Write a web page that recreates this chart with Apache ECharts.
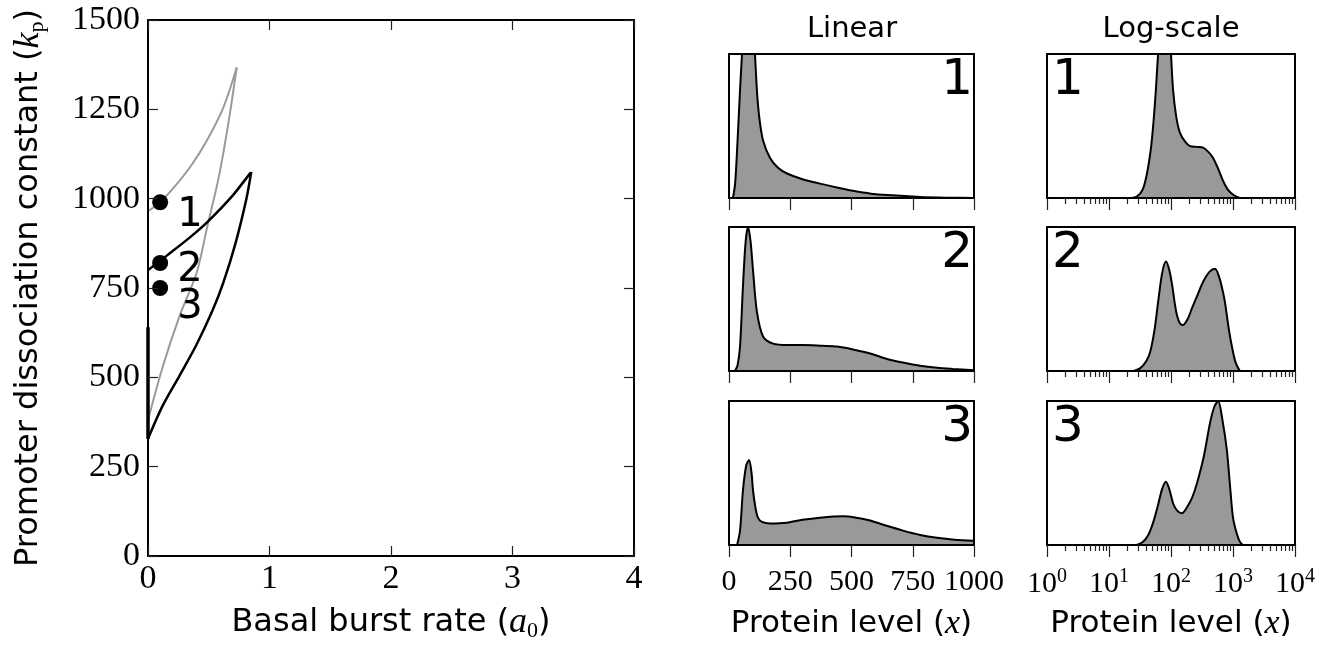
<!DOCTYPE html>
<html><head><meta charset="utf-8">
<script src="https://cdn.jsdelivr.net/npm/echarts@6/dist/echarts.min.js"></script>
<style>html,body{margin:0;padding:0;background:#fff}#c{width:1319px;height:647px}</style>
</head><body><div id="c"></div>
<script>
// ---- tick labels ----
const mainXTicks = [0, 1, 2, 3, 4];
const mainYTicks = [0, 250, 500, 750, 1000, 1250, 1500];
const linTicks = [0, 250, 500, 750, 1000];
const logTicks = [1, 10, 100, 1000, 10000];
const logMinorTicks = [2,3,4,5,6,7,8,9,20,30,40,50,60,70,80,90,200,300,400,500,600,700,800,900,2000,3000,4000,5000,6000,7000,8000,9000];

// ---- main plot: bifurcation curves (a0, kp) ----
const grayUpper = [[0,965],[0.1,990],[0.21,1030],[0.35,1090],[0.48,1160],[0.62,1255],[0.73,1367]];
const grayLower = [[0,380],[0.12,528],[0.26,672],[0.40,792],[0.49,925],[0.58,1056],[0.66,1208],[0.73,1367]];
const blackUpper = [[0,800],[0.16,842],[0.35,893],[0.49,935],[0.70,1010],[0.85,1075]];
const blackLower = [[0,328],[0.12,420],[0.26,505],[0.40,592],[0.53,686],[0.62,765],[0.72,875],[0.81,1000],[0.85,1075]];
const axisSegment = [[0,328],[0,640]];
const pointsX = [0.1, 0.1, 0.1];
const pointsY = [990, 820, 750];
const pointLabels = ['1', '2', '3'];

// ---- distributions, linear scale (protein level, relative density) ----
const linear1 = [[16,0],[25,0.1],[35,0.4],[45,0.75],[53,1.0],[65,1.4],[80,1.6],[95,1.35],[106,1.0],[115,0.72],[125,0.54],[139,0.40],[167,0.28],[200,0.21],[237,0.17],[300,0.13],[371,0.10],[450,0.07],[506,0.05],[580,0.03],[645,0.02],[780,0.007],[900,0.002],[1000,0]];
const linear2 = [[24,0],[35,0.04],[45,0.17],[57,0.59],[68,0.9],[78,1.0],[88,0.9],[98,0.70],[114,0.41],[139,0.24],[180,0.19],[240,0.18],[302,0.18],[380,0.175],[441,0.17],[506,0.15],[580,0.12],[645,0.083],[720,0.055],[780,0.036],[850,0.022],[914,0.014],[1000,0.005]];
const linear3 = [[33,0],[45,0.1],[57,0.38],[70,0.55],[82,0.59],[92,0.5],[98,0.38],[108,0.26],[118,0.19],[135,0.16],[167,0.15],[237,0.155],[300,0.175],[371,0.19],[465,0.20],[520,0.19],[576,0.17],[640,0.135],[710,0.10],[780,0.07],[849,0.05],[920,0.037],[1000,0.03]];

// ---- distributions, log scale ----
const log1 = [[20,0],[28,0.01],[35,0.06],[41,0.17],[47,0.33],[52,0.52],[57,0.75],[62,1.0],[70,1.25],[80,1.35],[92,1.25],[100,1.0],[108,0.75],[122,0.56],[140,0.45],[170,0.39],[203,0.36],[260,0.355],[330,0.35],[400,0.32],[475,0.28],[580,0.2],[690,0.12],[820,0.06],[960,0.03],[1130,0.01],[1290,0]];
const log2 = [[25,0],[32,0.02],[40,0.07],[46,0.13],[54,0.28],[62,0.48],[72,0.68],[83,0.76],[94,0.7],[105,0.59],[115,0.47],[126,0.38],[140,0.33],[155,0.32],[185,0.36],[220,0.44],[263,0.52],[330,0.62],[420,0.69],[513,0.71],[600,0.65],[680,0.56],[740,0.48],[850,0.3],[960,0.17],[1100,0.06],[1290,0]];
const log3 = [[28,0],[35,0.02],[43,0.07],[51,0.15],[62,0.28],[72,0.39],[83,0.44],[95,0.38],[108,0.29],[125,0.24],[150,0.22],[180,0.26],[220,0.33],[263,0.43],[340,0.62],[427,0.85],[500,0.96],[575,1.0],[680,0.86],[795,0.66],[900,0.4],[1000,0.19],[1150,0.08],[1300,0.02],[1450,0]];

const panelNames = ['1', '2', '3'];

// ---------------- build options ----------------
const SERIF = 'Liberation Serif', SANS = 'DejaVu Sans';
const BL = {color: '#000', width: 2};
const TL = {color: '#222', width: 1.2};
const grids = [{left: 148, top: 20, width: 486, height: 540}];
const rowTops = [54, 227, 401], PH = 144;
rowTops.forEach(t => grids.push({left: 729, top: t, width: 245, height: PH}));
rowTops.forEach(t => grids.push({left: 1047, top: t, width: 248, height: PH}));

const xAxes = [], yAxes = [], series = [];
const addX = o => (xAxes.push(o), xAxes.length - 1);
const addY = o => (yAxes.push(o), yAxes.length - 1);
const richName = {
  i: {fontFamily: SERIF, fontStyle: 'italic', fontSize: 36, color: '#000'},
  sub: {fontFamily: SERIF, fontSize: 22, color: '#000', padding: [16, 0, 0, 0]}
};
const richNameSmall = {
  i: {fontFamily: SERIF, fontStyle: 'italic', fontSize: 34, color: '#000'}
};

// main axes
const mx = addX({gridIndex: 0, type: 'value', position: 'bottom', min: mainXTicks[0], max: mainXTicks[mainXTicks.length-1], interval: mainXTicks[1]-mainXTicks[0],
  axisLine: {show: true, onZero: false, lineStyle: BL}, axisTick: {inside: true, length: 10, lineStyle: TL},
  axisLabel: {color: '#000', fontFamily: SERIF, fontSize: 34, margin: 6, formatter: v => String(v)}, splitLine: {show: false},
  name: 'Basal burst rate ({i|a}{sub|0})', nameLocation: 'middle', nameGap: 48,
  nameTextStyle: {fontFamily: SANS, fontSize: 32, color: '#000', rich: richName}, z: 10});
addX({gridIndex: 0, type: 'value', position: 'top', min: mainXTicks[0], max: mainXTicks[mainXTicks.length-1], interval: mainXTicks[1]-mainXTicks[0],
  axisLine: {show: true, onZero: false, lineStyle: BL}, axisTick: {inside: true, length: 10, lineStyle: TL},
  axisLabel: {show: false}, splitLine: {show: false}, z: 10});
const my = addY({gridIndex: 0, type: 'value', position: 'left', min: mainYTicks[0], max: mainYTicks[mainYTicks.length-1], interval: mainYTicks[1]-mainYTicks[0],
  axisLine: {show: true, onZero: false, lineStyle: BL}, axisTick: {inside: true, length: 10, lineStyle: TL},
  axisLabel: {color: '#000', fontFamily: SERIF, fontSize: 34, margin: 8, formatter: v => String(v)}, splitLine: {show: false},
  name: 'Promoter dissociation constant ({i|k}{sub|p})', nameLocation: 'middle', nameGap: 100,
  nameTextStyle: {fontFamily: SANS, fontSize: 32, color: '#000', rich: richName}, z: 10});
addY({gridIndex: 0, type: 'value', position: 'right', min: mainYTicks[0], max: mainYTicks[mainYTicks.length-1], interval: mainYTicks[1]-mainYTicks[0],
  axisLine: {show: true, onZero: false, lineStyle: BL}, axisTick: {inside: true, length: 10, lineStyle: TL},
  axisLabel: {show: false}, splitLine: {show: false}, z: 10});

const curve = (data, color, w) => ({type: 'line', xAxisIndex: mx, yAxisIndex: my, data, smooth: 0.3, symbol: 'none',
  lineStyle: {color, width: w}, silent: true, z: 3});
series.push(curve(grayUpper, '#9a9a9a', 2));
series.push(curve(grayLower, '#9a9a9a', 2));
series.push(curve(blackUpper, '#000', 2.5));
series.push(curve(blackLower, '#000', 2.5));
series.push(Object.assign(curve(axisSegment, '#000', 3.5), {smooth: false}));
const ptOffsets = [[4, 13], [4, 8], [4, 20]];
series.push({type: 'scatter', xAxisIndex: mx, yAxisIndex: my, symbolSize: 16, itemStyle: {color: '#000', opacity: 1}, z: 5, silent: true,
  data: pointsX.map((x, i) => ({value: [x, pointsY[i]], label: {offset: ptOffsets[i]}})),
  label: {show: true, position: 'right', distance: 5, formatter: p => pointLabels[p.dataIndex], fontFamily: SANS, fontSize: 40, color: '#000', opacity: 1}});

// panels
const panels = [
  {data: linear1, log: false, row: 0}, {data: linear2, log: false, row: 1}, {data: linear3, log: false, row: 2},
  {data: log1, log: true, row: 0}, {data: log2, log: true, row: 1}, {data: log3, log: true, row: 2}
];
panels.forEach((p, k) => {
  const g = k + 1, bottom = p.row === 2;
  const nameOpts = bottom ? {name: 'Protein level ({i|x})', nameLocation: 'middle', nameGap: 62,
    nameTextStyle: {fontFamily: SANS, fontSize: 31, color: '#000', rich: richNameSmall}} : {};
  let xi;
  if (!p.log) {
    xi = addX(Object.assign({gridIndex: g, type: 'value', position: 'bottom', min: linTicks[0], max: linTicks[linTicks.length-1], interval: linTicks[1]-linTicks[0],
      axisLine: {show: true, onZero: false, lineStyle: BL}, axisTick: {inside: false, length: 12, lineStyle: TL},
      axisLabel: {show: bottom, color: '#000', fontFamily: SERIF, fontSize: 30, margin: 22, formatter: v => String(v)},
      splitLine: {show: false}, z: 10}, nameOpts));
  } else {
    xi = addX(Object.assign({gridIndex: g, type: 'log', logBase: 10, position: 'bottom', min: logTicks[0], max: logTicks[logTicks.length-1], splitNumber: 4,
      axisLine: {show: true, onZero: false, lineStyle: BL}, axisTick: {inside: false, length: 12, lineStyle: TL},
      axisLabel: {show: bottom, color: '#000', fontFamily: SERIF, fontSize: 30, margin: 22, lineHeight: 34,
        formatter: v => '10{s|' + Math.round(Math.log10(v)) + '}',
        rich: {s: {fontFamily: SERIF, fontSize: 20, color: '#000', verticalAlign: 'top', lineHeight: 20}}},
      splitLine: {show: false}, z: 10}, nameOpts));
    addX({gridIndex: g, type: 'log', logBase: 10, position: 'bottom', min: logTicks[0], max: logTicks[logTicks.length-1],
      axisLine: {show: false}, axisTick: {show: true, inside: false, length: 6, customValues: logMinorTicks, lineStyle: TL},
      axisLabel: {show: false}, splitLine: {show: false}, z: 10});
  }
  addX({gridIndex: g, type: 'value', position: 'top', min: 0, max: 1, axisLine: {show: true, onZero: false, lineStyle: BL},
    axisTick: {show: false}, axisLabel: {show: false}, splitLine: {show: false}, z: 10});
  const yi = addY({gridIndex: g, type: 'value', position: 'left', min: 0, max: 1, axisLine: {show: true, onZero: false, lineStyle: BL},
    axisTick: {show: false}, axisLabel: {show: false}, splitLine: {show: false}, z: 10});
  addY({gridIndex: g, type: 'value', position: 'right', min: 0, max: 1, axisLine: {show: true, onZero: false, lineStyle: BL},
    axisTick: {show: false}, axisLabel: {show: false}, splitLine: {show: false}, z: 10});
  series.push({type: 'line', xAxisIndex: xi, yAxisIndex: yi, data: p.data, smooth: 0.3, symbol: 'none', clip: true,
    lineStyle: {color: '#000', width: 2}, areaStyle: {color: '#999', opacity: 1}, silent: true, z: 2});
});

const txt = (text, x, y, size, align) => ({type: 'text', x, y, z: 20,
  style: {text, font: size + 'px "' + SANS + '"', fill: '#000', align, verticalAlign: 'middle', textAlign: align, textVerticalAlign: 'middle'}});
const graphic = [txt('Linear', 852, 29, 29, 'center'), txt('Log-scale', 1171, 29, 29, 'center')];
rowTops.forEach((t, r) => {
  graphic.push(txt(panelNames[r], 973, t + 27, 50, 'right'));
  graphic.push(txt(panelNames[r], 1052, t + 27, 50, 'left'));
});

const chart = echarts.init(document.getElementById('c'), null, {renderer: 'canvas'});
chart.setOption({
  animation: false, backgroundColor: '#fff',
  grid: grids, xAxis: xAxes, yAxis: yAxes, series, graphic
});
</script>
</body></html>
